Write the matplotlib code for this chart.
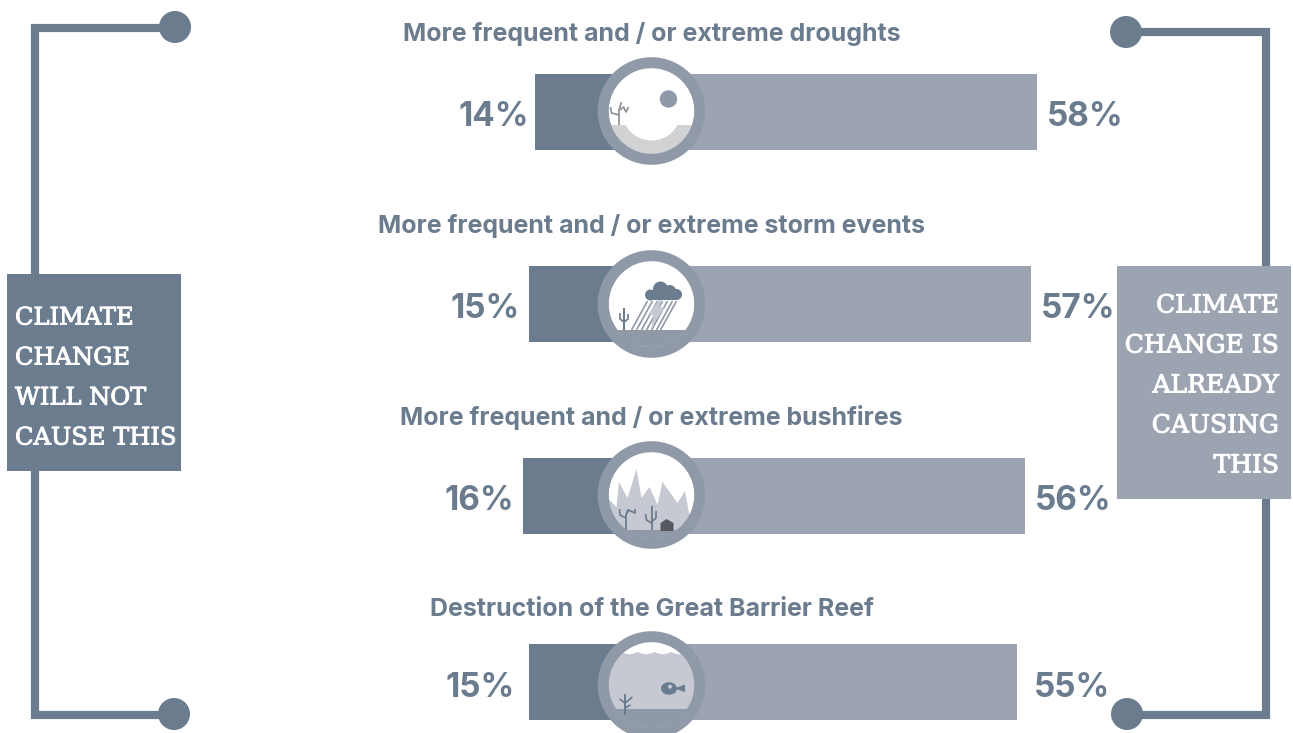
import numpy as np
import matplotlib
matplotlib.use('Agg')
import matplotlib.pyplot as plt
import matplotlib.patheffects as pe
from matplotlib.patches import Circle, Ellipse, Polygon, Rectangle

# values
labels = ['More frequent and / or extreme droughts',
          'More frequent and / or extreme storm events',
          'More frequent and / or extreme bushfires',
          'Destruction of the Great Barrier Reef']
not_cause = [14, 15, 16, 15]
already_cause = [58, 57, 56, 55]
left_text = 'CLIMATE\nCHANGE\nWILL NOT\nCAUSE THIS'
right_text = 'CLIMATE\nCHANGE IS\nALREADY\nCAUSING\nTHIS'

W, H = 1293, 733
DARK = '#6b7c8f'
LIGHT = '#9da4b1'
RING = '#8f99a8'
PALE = '#c6c9d1'
GREY = '#d1d2d4'
TWIG = '#8a8f96'
SANS = 'Inter'
SLAB = 'DejaVu Serif'

row_y = [112, 304, 496, 682]
circle_y = [111, 304, 495, 685]
label_y = [34, 226, 418, 610]
pct_y = [117, 309, 501, 688]
# the split between the two halves drifts a little from row to row
split_px = [632.7, 633.7, 634.7, 634.0]
px_per_pct = 6.97

fig = plt.figure(figsize=(W / 100, H / 100), dpi=100)

# bars live on a percent axis, drawn either side of the split
ax = fig.add_axes([0, 0, 1, 1])
ax.set_xlim(0, W / px_per_pct)
ax.set_ylim(H, 0)
ax.axis('off')
split_pct = [s / px_per_pct for s in split_px]
ax.barh(row_y, [-v for v in not_cause], left=split_pct, height=76, color=DARK, linewidth=0)
ax.barh(row_y, already_cause, left=split_pct, height=76, color=LIGHT, linewidth=0)

# everything else is placed in pixels
deco = fig.add_axes([0, 0, 1, 1], zorder=2)
deco.set_xlim(0, W)
deco.set_ylim(H, 0)
deco.axis('off')
deco.patch.set_alpha(0)


def stem(cx, cy, pts, color=DARK, lw=1.2):
    xs = [cx + p[0] for p in pts]
    ys = [cy + p[1] for p in pts]
    deco.plot(xs, ys, color=color, lw=lw, solid_capstyle='butt', zorder=6)


def disc(xy, r, color, zorder):
    c = Circle(xy, r, facecolor=color, edgecolor='none', zorder=zorder)
    deco.add_patch(c)
    return c


def clipped(patch, clip):
    deco.add_patch(patch)
    patch.set_clip_path(clip)


def scene_droughts(cx, cy, clip):
    disc((cx + 17, cy - 12), 8.7, RING, 5)
    clipped(Rectangle((cx - 45, cy + 14), 90, 32, facecolor=GREY, edgecolor='none', zorder=4), clip)
    disc((cx, cy), 29.5, 'white', 4.5)
    stem(cx, cy, [(-32.5, 14), (-32.5, -1), (-30, -9)], TWIG)
    stem(cx, cy, [(-41, -4), (-40, 2), (-32.5, 4)], TWIG)
    stem(cx, cy, [(-31.5, -1), (-28, -4), (-25.5, 1), (-23, -4)], TWIG)


def scene_storm(cx, cy, clip):
    # rain
    for dx in [-4, 1, 6, 11, 16, 21, 25]:
        stem(cx, cy, [(dx - 16, 26), (dx, -3)], RING, 1.2)
    deco.add_patch(Polygon([(cx + 10, cy - 8), (cx - 3, cy + 10), (cx + 2, cy + 11), (cx, cy + 23),
                            (cx + 13, cy + 4), (cx + 8, cy + 3)], facecolor=PALE, edgecolor='none', zorder=6))
    for c, r in [((cx - 1, cy - 9), 5.5), ((cx + 9, cy - 15), 7.5), ((cx + 18, cy - 12), 7),
                 ((cx + 25, cy - 9.5), 5.5)]:
        disc(c, r, DARK, 7)
    deco.add_patch(Rectangle((cx - 1, cy - 12), 26, 8, facecolor=DARK, edgecolor='none', zorder=7))
    clipped(Rectangle((cx - 45, cy + 26), 90, 24, facecolor=RING, edgecolor='none', zorder=5), clip)
    stem(cx, cy, [(-27.5, 26), (-27.5, 4)], DARK, 1.5)
    stem(cx, cy, [(-31.5, 9), (-31.5, 15), (-27.5, 18)], DARK)
    stem(cx, cy, [(-23.5, 10), (-23.5, 15), (-27.5, 18)], DARK)


def scene_fires(cx, cy, clip):
    flames = [(-45, 2), (-35, 12), (-32.5, -13), (-24, 3), (-15, -26), (-10, 3), (-2, -8), (6, 10),
              (11, -13), (26, 8), (33.5, -4), (37.5, 18), (45, 25), (45, 45), (-45, 45)]
    clipped(Polygon([(cx + x, cy + y) for x, y in flames], facecolor=PALE, edgecolor='none', zorder=5), clip)
    clipped(Rectangle((cx - 45, cy + 35), 90, 14, facecolor=RING, edgecolor='none', zorder=5), clip)
    stem(cx, cy, [(-25.5, 35), (-25.5, 20), (-23, 14)], DARK, 1.3)
    stem(cx, cy, [(-32, 14), (-31.5, 20), (-25.5, 23)], DARK)
    stem(cx, cy, [(-25.5, 20), (-23, 15), (-16.5, 18), (-16.5, 14)], DARK)
    stem(cx, cy, [(0, 35), (0, 11)], DARK, 1.3)
    stem(cx, cy, [(-6, 19), (-5, 25), (0, 28)], DARK)
    stem(cx, cy, [(4.5, 16), (4.5, 23), (0, 27)], DARK)
    deco.add_patch(Polygon([(cx + 9, cy + 28), (cx + 15, cy + 24), (cx + 22, cy + 28), (cx + 22, cy + 36),
                            (cx + 9, cy + 36)], facecolor='#555a60', edgecolor='none', zorder=7))


def scene_reef(cx, cy, clip):
    # water with a wavy top edge, built from small scallops
    xs = np.linspace(cx - 45, cx + 45, 181)
    waves = cy - 33 + 2.2 * np.abs(np.sin((xs - cx - 3) * np.pi / 16.7))
    clipped(Polygon(list(zip(xs, waves)) + [(cx + 45, cy + 45), (cx - 45, cy + 45)],
                    facecolor=PALE, edgecolor='none', zorder=5), clip)
    clipped(Rectangle((cx - 45, cy + 24), 90, 24, facecolor=RING, edgecolor='none', zorder=5), clip)
    deco.add_patch(Ellipse((cx + 17.5, cy + 3.5), 16, 12.5, facecolor=DARK, edgecolor='none', zorder=6))
    deco.add_patch(Polygon([(cx + 23, cy + 3.5), (cx + 33.5, cy - 0.5), (cx + 33.5, cy + 7)],
                           facecolor=DARK, edgecolor='none', zorder=6))
    disc((cx + 18.5, cy + 1.7), 2, PALE, 7)
    stem(cx, cy, [(-26.5, 30), (-26.5, 9)], DARK, 1.4)
    stem(cx, cy, [(-32, 14), (-26.5, 18), (-19, 12)], DARK)
    stem(cx, cy, [(-26.5, 23), (-21, 20)], DARK)


scenes = [scene_droughts, scene_storm, scene_fires, scene_reef]

for i in range(len(labels)):
    cx, cy = 651.5, circle_y[i]
    inner = disc((cx, cy), 43, 'white', 3)
    # ring: a thick circle outline sitting above the scene
    deco.add_patch(Circle((cx, cy), 48.3, facecolor='none', edgecolor=RING, linewidth=11 * 0.72, zorder=8))
    scenes[i](cx, cy, inner)
    deco.text(651.5, label_y[i], labels[i], ha='center', va='center', color=DARK,
              family=SANS, weight='bold', fontsize=17.95)

# percent labels, kept clear of the bar ends
left_pct_x = [529, 520, 514.5, 514.5]
right_pct_x = [1047, 1041, 1035, 1034]
for i in range(len(labels)):
    deco.text(left_pct_x[i], pct_y[i], f'{not_cause[i]}%', ha='right', va='center',
              color=DARK, family=SANS, weight='bold', fontsize=24)
    deco.text(right_pct_x[i], pct_y[i], f'{already_cause[i]}%', ha='left', va='center',
              color=DARK, family=SANS, weight='bold', fontsize=24)

# brackets out to the side boxes
line_kw = dict(color=DARK, lw=5.9, solid_joinstyle='miter', solid_capstyle='butt')
deco.plot([174, 35, 35], [27.5, 27.5, 274], **line_kw)
deco.plot([35, 35, 174], [470, 714.5, 714.5], **line_kw)
deco.plot([1126, 1266, 1266], [32, 32, 266], **line_kw)
deco.plot([1266, 1266, 1126], [498, 714.5, 714.5], **line_kw)
for xy in [(175, 27), (174, 714), (1126, 32), (1127, 714)]:
    disc(xy, 16, DARK, 3)

deco.add_patch(Rectangle((7, 274), 174, 197, facecolor=DARK, edgecolor='none', zorder=3))
deco.add_patch(Rectangle((1117, 266), 174, 233, facecolor=LIGHT, edgecolor='none', zorder=3))
heavier = [pe.withStroke(linewidth=0.7, foreground='white')]
for i, line in enumerate(left_text.split('\n')):
    deco.text(15, 318 + 40 * i, line, ha='left', va='center', color='white', family=SLAB, fontsize=17.4,
              zorder=4, path_effects=heavier)
for i, line in enumerate(right_text.split('\n')):
    deco.text(1279, 306 + 40 * i, line, ha='right', va='center', color='white', family=SLAB, fontsize=18,
              zorder=4, path_effects=heavier)

fig.savefig('out.png', dpi=100)
